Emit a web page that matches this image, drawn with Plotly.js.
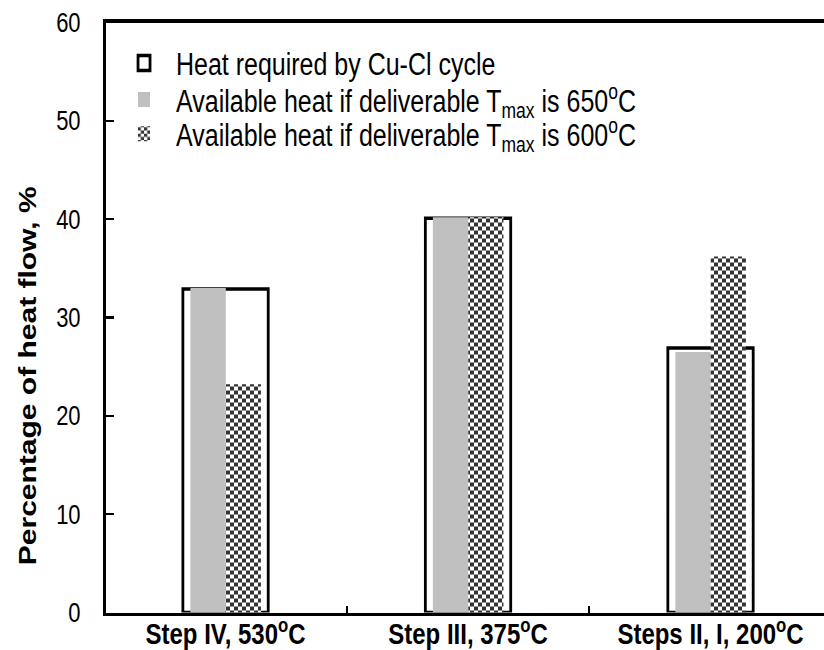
<!DOCTYPE html>
<html>
<head>
<meta charset="utf-8">
<script src="https://cdn.plot.ly/plotly-3.0.1.min.js"></script>
<style>
html{margin:0;padding:0;background:#fff;overflow:hidden;}
body{margin:0;padding:0;background:#fff;width:824px;height:650px;}
#chart{width:824px;height:520px;transform:scaleY(1.25);transform-origin:0 0;}
</style>
</head>
<body>
<div id="chart"></div>
<script>
// Data
const categories = ['Step IV, 530<sup>o</sup>C', 'Step III, 375<sup>o</sup>C', 'Steps II, I, 200<sup>o</sup>C'];
const heatRequired = [32.9, 40.1, 26.9];
const avail650 = [33.0, 40.2, 26.5];
const avail600 = [23.2, 40.2, 36.2];
const seriesNames = [
  'Heat required by Cu-Cl cycle',
  'Available heat if deliverable T<sub>max</sub> is 650<sup>o</sup>C',
  'Available heat if deliverable T<sub>max</sub> is 600<sup>o</sup>C'
];
const yTitle = 'Percentage of heat flow, %';
const yTicks = [0, 10, 20, 30, 40, 50, 60];

const FONT = 'Liberation Sans, Arial, Helvetica, sans-serif';
const rep = v => categories.map(() => v);

const traces = [
  {type:'bar', x:categories, y:heatRequired, name:seriesNames[0], legend:'legend',
   width:rep(0.352), offset:rep(-0.176),
   marker:{color:'#ffffff', line:{color:'#000000', width:2.8}}},
  {type:'bar', x:categories, y:avail650, name:seriesNames[1], legend:'legend2',
   width:rep(0.146), offset:rep(-0.145),
   marker:{color:'#c0c0c0', line:{width:0}}},
  {type:'bar', x:categories, y:avail600, name:seriesNames[2], legend:'legend3',
   width:rep(0.145), offset:rep(0.001),
   marker:{color:'#ffffff', line:{width:0}, pattern:{shape:'.', fgcolor:'#333333', bgcolor:'#ffffff', size:8, solidity:0.3}}}
];

function leg(y){
  return {x:0.0084, xanchor:'left', y:y, yanchor:'middle', bgcolor:'rgba(0,0,0,0)', borderwidth:0,
          itemwidth:54, font:{family:FONT, size:25, color:'#000'}, traceorder:'normal'};
}

const layout = {
  width:824, height:520,
  margin:{l:106, r:0, t:18, b:30},
  paper_bgcolor:'#fff', plot_bgcolor:'#fff',
  barmode:'overlay',
  showlegend:true,
  legend:leg(0.931), legend2:leg(0.869), legend3:leg(0.811),
  xaxis:{type:'category', range:[-0.493, 2.468], showline:true, linecolor:'#000', linewidth:2.6, mirror:true,
         ticks:'inside', ticklen:5.6, tickwidth:2.4, tickcolor:'#000', tickson:'boundaries',
         showgrid:false, zeroline:false, ticklabelstandoff:-6,
         tickfont:{family:FONT, size:24, color:'#000', weight:'bold'}},
  yaxis:{range:[0,60], tickvals:yTicks, ticktext:yTicks.map(String), showline:true, linecolor:'#000', linewidth:3,
         ticks:'inside', ticklen:8, tickwidth:2, tickcolor:'#000', showgrid:false, zeroline:false,
         ticklabelstandoff:18,
         tickfont:{family:FONT, size:22, color:'#000'}},
  annotations:[{text:yTitle, xref:'paper', yref:'paper', x:-0.110, y:0.40, xanchor:'center', yanchor:'middle',
                textangle:-90, showarrow:false,
                font:{family:FONT, size:24, color:'#000', weight:'bold'}}]
};

const gd = document.getElementById('chart');
Plotly.newPlot(gd, traces, layout, {staticPlot:true, displayModeBar:false}).then(function(){
  // Turn the dot pattern into a checkerboard texture
  const NS = 'http://www.w3.org/2000/svg';
  gd.querySelectorAll('pattern').forEach(function(p){
    const w = 8, h = 6.4;
    p.setAttribute('width', w); p.setAttribute('height', h);
    p.setAttribute('patternUnits', 'userSpaceOnUse');
    while(p.firstChild) p.removeChild(p.firstChild);
    const mk = (x,y,ww,hh,c) => { const r = document.createElementNS(NS,'rect');
      r.setAttribute('x',x); r.setAttribute('y',y); r.setAttribute('width',ww); r.setAttribute('height',hh);
      r.setAttribute('fill',c); p.appendChild(r); };
    mk(0,0,w,h,'#ffffff');
    mk(0,0,w/2,h/2,'#333333');
    mk(w/2,h/2,w/2,h/2,'#333333');
  });
});
</script>
</body>
</html>
